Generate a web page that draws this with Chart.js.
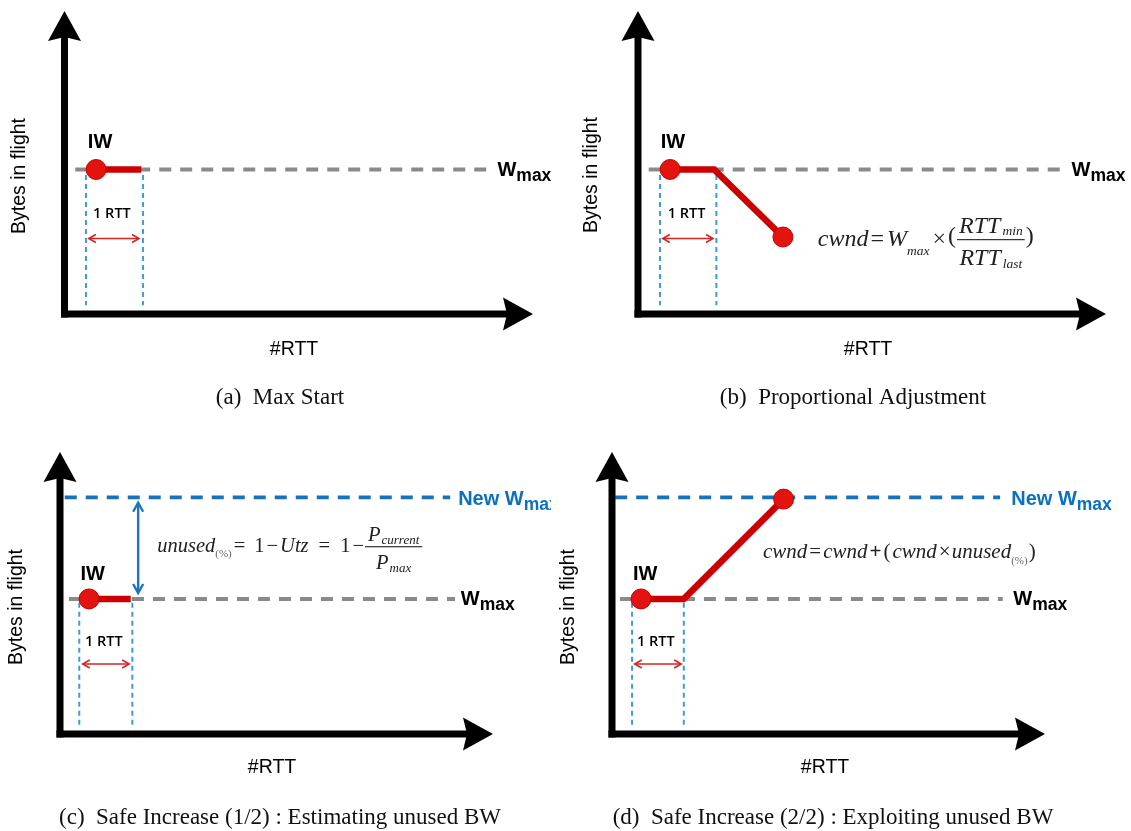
<!DOCTYPE html>
<html>
<head>
<meta charset="utf-8">
<script src="https://cdn.jsdelivr.net/npm/chart.js@4.4.1/dist/chart.umd.min.js"></script>
<style>
  html, body { margin: 0; padding: 0; background: #fff; }
  body { width: 1131px; height: 831px; position: relative; overflow: hidden; }
  canvas { position: absolute; }
</style>
</head>
<body>
<canvas id="pa" width="565" height="425" style="left:0;top:0"></canvas>
<canvas id="pb" width="566" height="425" style="left:565px;top:0"></canvas>
<canvas id="pc" width="551" height="401" style="left:0;top:430px"></canvas>
<canvas id="pd" width="579" height="401" style="left:552px;top:430px"></canvas>
<script>
// x in RTT units, y on a 0-10 "bytes in flight" scale; one entry per panel a, b, c, d
var captions = ['(a)\u2002Max Start', '(b)\u2002Proportional Adjustment',
  '(c)\u2002Safe Increase (1/2) : Estimating unused BW', '(d)\u2002Safe Increase (2/2) : Exploiting unused BW'];
var xMax = [8.3, 8.3, 8.2, 8.2];
var wmaxY = [4.77, 4.77, 4.79, 4.79];
var wmaxFrom = [0.19, 0.19, 0.17, 0.15];
var wmaxTo = [7.51, 7.53, 7.48, 7.40];
var newWmaxY = [null, null, 8.39, 8.39];
var newWmaxFrom = [null, null, 0.09, 0.06];
var newWmaxTo = [null, null, 7.39, 7.35];
var cwndX = [[0.56, 1.36], [0.57, 1.35, 2.57], [0.55, 1.34], [0.55, 1.36, 3.25]];
var cwndY = [[4.77, 4.77], [4.77, 4.77, 2.54], [4.79, 4.79], [4.79, 4.79, 8.33]];
var cwndDot = [[1, 0], [1, 0, 1], [1, 0], [1, 0, 1]];
var rttX = [[0.38, 1.39], [0.39, 1.39], [0.365, 1.37], [0.38, 1.36]];
var rttTop = [4.59, 4.59, 4.65, 4.65];
var rttBottom = [0.29, 0.29, 0.25, 0.25];
var rttArrowX = [[0.43, 1.32], [0.44, 1.33], [0.43, 1.31], [0.43, 1.31]];
var rttArrowY = [2.49, 2.49, 2.48, 2.48];
var rttLabelX = [0.84, 0.86, 0.83, 0.83];
var rttLabelY = [3.29, 3.29, 3.26, 3.26];
var iwLabelX = [0.63, 0.62, 0.62, 0.63];
var iwLabelY = [5.65, 5.65, 5.64, 5.64];
var wmaxLabelX = [7.67, 7.69, 7.59, 7.6];
var newWmaxLabelX = [null, null, 7.54, 7.56];
var unusedArrow = [1.48, 8.2, 5.0];          // panel c: x, top, bottom
var formulaX = [null, 3.19, 1.84, 2.86];
var formulaY = [null, 2.26, 6.45, 6.24];

// layout of each canvas (pixels)
var pads = [
  { left: 64.5, right: 32, top: 6, bottom: 111 },
  { left: 73, right: 25, top: 6, bottom: 111 },
  { left: 60, right: 58, top: 22, bottom: 97 },
  { left: 60, right: 86, top: 22, bottom: 97 }
];
var captionPos = [[280, 398], [288, 398], [280, 388], [281, 388]];
var xTitlePos = [[294, 350], [303, 350], [272, 338], [273, 338]];
var yTitlePos = [[19.5, 176], [27, 175], [17, 607 - 430], [17, 607 - 430]];

var SANS = '"Liberation Sans", Arial, sans-serif';
var SERIF = '"Liberation Serif", "Times New Roman", serif';
function I(s) { return 'italic ' + s + 'px ' + SERIF; }
function R(s) { return s + 'px ' + SERIF; }

var formulas = [null,
  [ { t: 'cwnd', font: I(24) }, { t: '=', font: R(24), gap: 2 }, { t: 'W', font: I(24), gap: 3 },
    { t: 'max', font: I(13.5), dy: 9 }, { t: '\u00D7', font: R(24), gap: 3 }, { t: '(', font: R(24), gap: 2, dy: -3 },
    { frac: true, gap: 1, pad: 4, numDy: -13, denDy: 19, barDy: -6.5,
      num: [{ t: 'RTT', font: I(24) }, { t: 'min', font: I(13.5), dy: 2, gap: 2 }],
      den: [{ t: 'RTT', font: I(24) }, { t: 'last', font: I(13.5), dy: 3, gap: 2 }] },
    { t: ')', font: R(24), gap: 1, dy: -3 } ],
  [ { t: 'unused', font: I(20.5) }, { t: '(%)', font: R(11), dy: 5, color: '#666' },
    { t: '=', font: R(20.5), gap: 2 }, { t: '1', font: R(20.5), gap: 9 }, { t: '\u2212', font: R(20.5), gap: 2 },
    { t: 'Utz', font: I(20.5), gap: 2 }, { t: '=', font: R(20.5), gap: 10 }, { t: '1', font: R(20.5), gap: 10 },
    { t: '\u2212', font: R(20.5), gap: 2 },
    { frac: true, gap: 1, pad: 6, numDy: -11, denDy: 17, barDy: -6,
      num: [{ t: 'P', font: I(20.5) }, { t: 'current', font: I(13), dy: 3, gap: 1 }],
      den: [{ t: 'P', font: I(20.5) }, { t: 'max', font: I(13), dy: 3, gap: 1 }] } ],
  [ { t: 'cwnd', font: I(21) }, { t: '=', font: R(21), gap: 2 }, { t: 'cwnd', font: I(21), gap: 2 },
    { t: '+', font: 'bold ' + R(21), gap: 2 }, { t: '(', font: R(21), gap: 2 }, { t: 'cwnd', font: I(21), gap: 2 },
    { t: '\u00D7', font: R(21), gap: 2 }, { t: 'unused', font: I(21), gap: 1 },
    { t: '(%)', font: R(11), dy: 6, color: '#666' }, { t: ')', font: R(21), gap: 1 } ]
];

function runs(ctx, x, y, list, draw) {
  list.forEach(function(r) {
    x += r.gap || 0;
    if (r.frac) {
      var wn = runs(ctx, 0, 0, r.num, false), wd = runs(ctx, 0, 0, r.den, false);
      var w = Math.max(wn, wd) + r.pad;
      if (draw) {
        runs(ctx, x + (w - wn) / 2, y + r.numDy, r.num, true);
        runs(ctx, x + (w - wd) / 2, y + r.denDy, r.den, true);
        ctx.fillStyle = '#333';
        ctx.fillRect(x, y + r.barDy, w, 1.2);
      }
      x += w;
    } else {
      ctx.font = r.font;
      if (draw) {
        ctx.fillStyle = r.color || '#222';
        ctx.fillText(r.t, x, y + (r.dy || 0));
      }
      x += ctx.measureText(r.t).width;
    }
  });
  return x;
}

function line(xs, ys, color, width, dash, order) {
  return {
    data: xs.map(function(x, i) { return { x: x, y: ys[i] }; }),
    borderColor: color, borderWidth: width, borderDash: dash || [], pointRadius: 0,
    fill: false, tension: 0, order: order, borderCapStyle: 'butt'
  };
}

function head(ctx, x, y, dx, dy, len, hw) {
  // open V arrow head pointing along (dx,dy)
  ctx.beginPath();
  ctx.moveTo(x - dx * len - dy * hw, y - dy * len + dx * hw);
  ctx.lineTo(x, y);
  ctx.lineTo(x - dx * len + dy * hw, y - dy * len - dx * hw);
  ctx.stroke();
}

function wLabel(ctx, pre, x, y, color) {
  ctx.fillStyle = color;
  ctx.textAlign = 'left';
  ctx.textBaseline = 'alphabetic';
  ctx.font = 'bold 20px ' + SANS;
  ctx.fillText(pre + 'W', x, y);
  var w = ctx.measureText(pre + 'W').width;
  ctx.font = 'bold 17.5px ' + SANS;
  ctx.fillText('max', x + w, y + 5);
}

function sketchPlugin(p) {
  return {
    id: 'sketch' + p,
    afterDraw: function(chart) {
      var ctx = chart.ctx, a = chart.chartArea;
      var sx = chart.scales.x, sy = chart.scales.y;
      ctx.save();

      // axes with arrow heads
      var w = 7, hl = 30, hw = 16.5, notch = 4;
      ctx.fillStyle = '#000';
      ctx.fillRect(a.left - w / 2, a.top + hl - notch - 1, w, a.bottom - a.top - hl + notch + 1 + w / 2);
      ctx.fillRect(a.left - w / 2, a.bottom - w / 2, a.right - a.left - hl + notch + 1 + w / 2, w);
      ctx.beginPath();
      ctx.moveTo(a.left, a.top); ctx.lineTo(a.left + hw, a.top + hl);
      ctx.lineTo(a.left, a.top + hl - notch); ctx.lineTo(a.left - hw, a.top + hl);
      ctx.closePath(); ctx.fill();
      ctx.beginPath();
      ctx.moveTo(a.right, a.bottom); ctx.lineTo(a.right - hl, a.bottom - hw);
      ctx.lineTo(a.right - hl + notch, a.bottom); ctx.lineTo(a.right - hl, a.bottom + hw);
      ctx.closePath(); ctx.fill();

      // 1 RTT double arrow
      var ay = sy.getPixelForValue(rttArrowY[p]);
      var ax0 = sx.getPixelForValue(rttArrowX[p][0]), ax1 = sx.getPixelForValue(rttArrowX[p][1]);
      ctx.strokeStyle = '#d42424'; ctx.lineWidth = 1.6;
      ctx.beginPath(); ctx.moveTo(ax0, ay); ctx.lineTo(ax1, ay); ctx.stroke();
      head(ctx, ax0, ay, -1, 0, 7, 4);
      head(ctx, ax1, ay, 1, 0, 7, 4);

      // unused bandwidth arrow (panel c)
      if (p === 2) {
        var ux = sx.getPixelForValue(unusedArrow[0]);
        var uy0 = sy.getPixelForValue(unusedArrow[1]), uy1 = sy.getPixelForValue(unusedArrow[2]);
        ctx.strokeStyle = '#1c75bc'; ctx.lineWidth = 2.4;
        ctx.beginPath(); ctx.moveTo(ux, uy0 + 1); ctx.lineTo(ux, uy1 - 1); ctx.stroke();
        head(ctx, ux, uy0, 0, -1, 9, 5);
        head(ctx, ux, uy1, 0, 1, 9, 5);
      }

      // labels
      ctx.textAlign = 'center'; ctx.textBaseline = 'middle';
      ctx.fillStyle = '#000';
      ctx.font = '600 14.5px "Open Sans", ' + SANS;
      ctx.fillText('1 RTT', sx.getPixelForValue(rttLabelX[p]), sy.getPixelForValue(rttLabelY[p]));
      ctx.font = 'bold 20px ' + SANS;
      ctx.fillText('IW', sx.getPixelForValue(iwLabelX[p]), sy.getPixelForValue(iwLabelY[p]));

      wLabel(ctx, '', sx.getPixelForValue(wmaxLabelX[p]), sy.getPixelForValue(wmaxY[p]) + 6.5, '#000');
      if (newWmaxY[p] !== null) {
        wLabel(ctx, 'New ', sx.getPixelForValue(newWmaxLabelX[p]), sy.getPixelForValue(newWmaxY[p]) + 7.5, '#0b6fc2');
      }

      // formula
      if (formulas[p]) {
        ctx.textAlign = 'left'; ctx.textBaseline = 'alphabetic';
        runs(ctx, sx.getPixelForValue(formulaX[p]), sy.getPixelForValue(formulaY[p]), formulas[p], true);
      }

      // axis titles and caption
      ctx.fillStyle = '#000';
      ctx.textAlign = 'center'; ctx.textBaseline = 'middle';
      ctx.font = '19.5px ' + SANS;
      ctx.fillText('#RTT', xTitlePos[p][0], xTitlePos[p][1]);
      ctx.save();
      ctx.translate(yTitlePos[p][0], yTitlePos[p][1]);
      ctx.rotate(-Math.PI / 2);
      ctx.fillText('Bytes in flight', 0, 0);
      ctx.restore();
      ctx.font = '23px ' + SERIF;
      ctx.fillStyle = '#111';
      ctx.fillText(captions[p], captionPos[p][0], captionPos[p][1]);

      ctx.restore();
    }
  };
}

['pa', 'pb', 'pc', 'pd'].forEach(function(id, p) {
  var datasets = [];
  var red = line(cwndX[p], cwndY[p], '#cc0000', 6.5, [], 0);
  red.pointRadius = cwndDot[p].map(function(d) { return d ? 10 : 0; });
  red.pointBackgroundColor = '#e3140f';
  red.pointBorderColor = '#c80000';
  red.pointBorderWidth = 1;
  datasets.push(red);
  rttX[p].forEach(function(x) {
    datasets.push(line([x, x], [rttTop[p], rttBottom[p]], '#3f9bd6', 2, [5, 4], 1));
  });
  if (newWmaxY[p] !== null) {
    datasets.push(line([newWmaxFrom[p], newWmaxTo[p]], [newWmaxY[p], newWmaxY[p]], '#1672bd', 3.6, [12, 9], 2));
  }
  datasets.push(line([wmaxFrom[p], wmaxTo[p]], [wmaxY[p], wmaxY[p]], '#8a8a8a', 4, [12, 9], 3));

  new Chart(document.getElementById(id), {
    type: 'line',
    data: { datasets: datasets },
    options: {
      responsive: false, animation: false, devicePixelRatio: 1, events: [],
      layout: { padding: pads[p] },
      plugins: { legend: { display: false }, tooltip: { enabled: false } },
      scales: {
        x: { type: 'linear', display: false, min: 0, max: xMax[p] },
        y: { type: 'linear', display: false, min: 0, max: 10 }
      }
    },
    plugins: [sketchPlugin(p)]
  });
});
</script>
</body>
</html>
